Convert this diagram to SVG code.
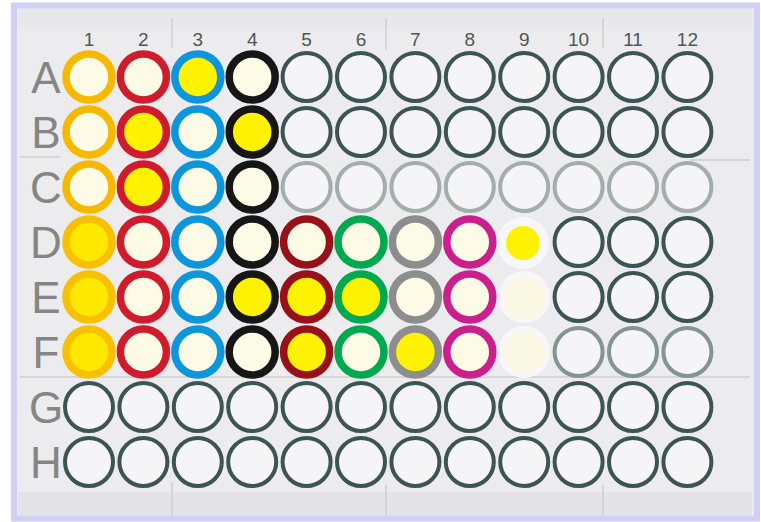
<svg xmlns="http://www.w3.org/2000/svg" width="761" height="522" viewBox="0 0 761 522">
<style>
.lbl{font-family:"Liberation Sans",Arial,sans-serif;fill:#4e5656;font-size:19px;text-anchor:middle}
.row{font-family:"Liberation Sans",Arial,sans-serif;fill:#858585;font-size:44px;text-anchor:middle}
.g{fill:#f5f5f7;stroke:#3d5454;stroke-width:4}
.gl{fill:#f5f5f7;stroke:#a2adad;stroke-width:4}
.gm{fill:#f5f5f7;stroke:#849494;stroke-width:4}
.k{stroke-width:7.5}
.c{fill:#fdfbe6}
.y{fill:#fff200}
.plate{stroke:#cfcfd3;stroke-width:1.5}
</style>
<rect x="0" y="0" width="761" height="522" fill="#ffffff"/>
<rect x="14" y="5.5" width="743" height="513" fill="#ececef" stroke="#d0d0f6" stroke-width="6"/>
<rect x="18" y="9" width="734" height="20" fill="#e8e8eb"/>
<rect x="18" y="492" width="734" height="23" fill="#e4e4e8"/>
<g id="plate-lines" fill="none" class="plate">
<line x1="20" y1="157" x2="60" y2="157"/>
<line x1="690" y1="160" x2="750" y2="160"/>
<line x1="20" y1="377" x2="750" y2="377"/>
<line x1="172" y1="18" x2="172" y2="48"/>
<line x1="172" y1="482" x2="172" y2="515"/>
<line x1="386" y1="18" x2="386" y2="50"/>
<line x1="386" y1="485" x2="386" y2="515"/>
<line x1="603" y1="18" x2="603" y2="48"/>
<line x1="603" y1="485" x2="603" y2="515"/>
</g>
<g id="col-labels">
<text class="lbl" x="89" y="46">1</text>
<text class="lbl" x="143.4" y="46">2</text>
<text class="lbl" x="197.8" y="46">3</text>
<text class="lbl" x="252.2" y="46">4</text>
<text class="lbl" x="306.6" y="46">5</text>
<text class="lbl" x="361" y="46">6</text>
<text class="lbl" x="415.4" y="46">7</text>
<text class="lbl" x="469.8" y="46">8</text>
<text class="lbl" x="524.2" y="46">9</text>
<text class="lbl" x="578.6" y="46">10</text>
<text class="lbl" x="633" y="46">11</text>
<text class="lbl" x="687.4" y="46">12</text>
</g>
<g id="row-labels">
<text class="row" x="46" y="93">A</text>
<text class="row" x="46" y="148">B</text>
<text class="row" x="46" y="203">C</text>
<text class="row" x="46" y="258">D</text>
<text class="row" x="46" y="313">E</text>
<text class="row" x="46" y="368">F</text>
<text class="row" x="46" y="423">G</text>
<text class="row" x="46" y="478">H</text>
</g>
<g id="wells">
<!-- Column 1 gold -->
<g id="A1"><circle class="k c" cx="89" cy="77" r="23" stroke="#f7b900"/></g>
<g id="B1"><circle class="k c" cx="89" cy="132" r="23" stroke="#f7b900"/></g>
<g id="C1"><circle class="k c" cx="89" cy="187" r="23" stroke="#f7b900"/></g>
<g id="D1"><circle class="k" cx="89" cy="242" r="23" stroke="#f9c000" fill="#ffe800"/></g>
<g id="E1"><circle class="k" cx="89" cy="297" r="23" stroke="#f9c000" fill="#ffe800"/></g>
<g id="F1"><circle class="k" cx="89" cy="352" r="23" stroke="#f9c000" fill="#ffe800"/></g>
<g id="G1"><circle class="g" cx="89" cy="407" r="24"/></g>
<g id="H1"><circle class="g" cx="89" cy="462" r="24"/></g>
<!-- Column 2 red -->
<g id="A2"><circle class="k c" cx="143.4" cy="77" r="23" stroke="#cf1b2b"/></g>
<g id="B2"><circle class="k y" cx="143.4" cy="132" r="23" stroke="#cf1b2b"/></g>
<g id="C2"><circle class="k y" cx="143.4" cy="187" r="23" stroke="#cf1b2b"/></g>
<g id="D2"><circle class="k c" cx="143.4" cy="242" r="23" stroke="#cf1b2b"/></g>
<g id="E2"><circle class="k c" cx="143.4" cy="297" r="23" stroke="#cf1b2b"/></g>
<g id="F2"><circle class="k c" cx="143.4" cy="352" r="23" stroke="#cf1b2b"/></g>
<g id="G2"><circle class="g" cx="143.4" cy="407" r="24"/></g>
<g id="H2"><circle class="g" cx="143.4" cy="462" r="24"/></g>
<!-- Column 3 blue -->
<g id="A3"><circle class="k y" cx="197.8" cy="77" r="23" stroke="#0d96dc"/></g>
<g id="B3"><circle class="k c" cx="197.8" cy="132" r="23" stroke="#0d96dc"/></g>
<g id="C3"><circle class="k c" cx="197.8" cy="187" r="23" stroke="#0d96dc"/></g>
<g id="D3"><circle class="k c" cx="197.8" cy="242" r="23" stroke="#0d96dc"/></g>
<g id="E3"><circle class="k c" cx="197.8" cy="297" r="23" stroke="#0d96dc"/></g>
<g id="F3"><circle class="k c" cx="197.8" cy="352" r="23" stroke="#0d96dc"/></g>
<g id="G3"><circle class="g" cx="197.8" cy="407" r="24"/></g>
<g id="H3"><circle class="g" cx="197.8" cy="462" r="24"/></g>
<!-- Column 4 black -->
<g id="A4"><circle class="k c" cx="252.2" cy="77" r="23" stroke="#161616"/></g>
<g id="B4"><circle class="k y" cx="252.2" cy="132" r="23" stroke="#161616"/></g>
<g id="C4"><circle class="k c" cx="252.2" cy="187" r="23" stroke="#161616"/></g>
<g id="D4"><circle class="k c" cx="252.2" cy="242" r="23" stroke="#161616"/></g>
<g id="E4"><circle class="k y" cx="252.2" cy="297" r="23" stroke="#161616"/></g>
<g id="F4"><circle class="k c" cx="252.2" cy="352" r="23" stroke="#161616"/></g>
<g id="G4"><circle class="g" cx="252.2" cy="407" r="24"/></g>
<g id="H4"><circle class="g" cx="252.2" cy="462" r="24"/></g>
<!-- Column 5 dark red -->
<g id="A5"><circle class="g" cx="306.6" cy="77" r="24"/></g>
<g id="B5"><circle class="g" cx="306.6" cy="132" r="24"/></g>
<g id="C5"><circle class="gl" cx="306.6" cy="187" r="24"/></g>
<g id="D5"><circle class="k c" cx="306.6" cy="242" r="23" stroke="#981018"/></g>
<g id="E5"><circle class="k y" cx="306.6" cy="297" r="23" stroke="#981018"/></g>
<g id="F5"><circle class="k y" cx="306.6" cy="352" r="23" stroke="#981018"/></g>
<g id="G5"><circle class="g" cx="306.6" cy="407" r="24"/></g>
<g id="H5"><circle class="g" cx="306.6" cy="462" r="24"/></g>
<!-- Column 6 green -->
<g id="A6"><circle class="g" cx="361" cy="77" r="24"/></g>
<g id="B6"><circle class="g" cx="361" cy="132" r="24"/></g>
<g id="C6"><circle class="gl" cx="361" cy="187" r="24"/></g>
<g id="D6"><circle class="k c" cx="361" cy="242" r="23" stroke="#00a84f"/></g>
<g id="E6"><circle class="k y" cx="361" cy="297" r="23" stroke="#00a84f"/></g>
<g id="F6"><circle class="k c" cx="361" cy="352" r="23" stroke="#00a84f"/></g>
<g id="G6"><circle class="g" cx="361" cy="407" r="24"/></g>
<g id="H6"><circle class="g" cx="361" cy="462" r="24"/></g>
<!-- Column 7 gray -->
<g id="A7"><circle class="g" cx="415.4" cy="77" r="24"/></g>
<g id="B7"><circle class="g" cx="415.4" cy="132" r="24"/></g>
<g id="C7"><circle class="gl" cx="415.4" cy="187" r="24"/></g>
<g id="D7"><circle class="k c" cx="415.4" cy="242" r="23" stroke="#8d8d8d"/></g>
<g id="E7"><circle class="k c" cx="415.4" cy="297" r="23" stroke="#8d8d8d"/></g>
<g id="F7"><circle class="k y" cx="415.4" cy="352" r="23" stroke="#8d8d8d"/></g>
<g id="G7"><circle class="g" cx="415.4" cy="407" r="24"/></g>
<g id="H7"><circle class="g" cx="415.4" cy="462" r="24"/></g>
<!-- Column 8 magenta -->
<g id="A8"><circle class="g" cx="469.8" cy="77" r="24"/></g>
<g id="B8"><circle class="g" cx="469.8" cy="132" r="24"/></g>
<g id="C8"><circle class="gl" cx="469.8" cy="187" r="24"/></g>
<g id="D8"><circle class="k c" cx="469.8" cy="242" r="23" stroke="#cc1f8e"/></g>
<g id="E8"><circle class="k c" cx="469.8" cy="297" r="23" stroke="#cc1f8e"/></g>
<g id="F8"><circle class="k c" cx="469.8" cy="352" r="23" stroke="#cc1f8e"/></g>
<g id="G8"><circle class="g" cx="469.8" cy="407" r="24"/></g>
<g id="H8"><circle class="g" cx="469.8" cy="462" r="24"/></g>
<!-- Column 9 -->
<g id="A9"><circle class="g" cx="524.2" cy="77" r="24"/></g>
<g id="B9"><circle class="g" cx="524.2" cy="132" r="24"/></g>
<g id="C9"><circle class="gl" cx="524.2" cy="187" r="24"/></g>
<g id="D9"><circle cx="523" cy="243" r="26" fill="#f7f7f9"/><circle cx="523" cy="243" r="17" fill="#fff200"/></g>
<g id="E9"><circle cx="524.2" cy="297" r="26" fill="#f7f7f9"/><circle cx="524.2" cy="298" r="21" fill="#fbf8e4"/></g>
<g id="F9"><circle cx="524.2" cy="352" r="26" fill="#f7f7f9"/><circle cx="524.2" cy="352" r="21" fill="#fbf8e4"/></g>
<g id="G9"><circle class="g" cx="524.2" cy="407" r="24"/></g>
<g id="H9"><circle class="g" cx="524.2" cy="462" r="24"/></g>
<!-- Column 10 -->
<g id="A10"><circle class="g" cx="578.6" cy="77" r="24"/></g>
<g id="B10"><circle class="g" cx="578.6" cy="132" r="24"/></g>
<g id="C10"><circle class="gl" cx="578.6" cy="187" r="24"/></g>
<g id="D10"><circle class="g" cx="578.6" cy="242" r="24"/></g>
<g id="E10"><circle class="g" cx="578.6" cy="297" r="24"/></g>
<g id="F10"><circle class="gm" cx="578.6" cy="352" r="24"/></g>
<g id="G10"><circle class="g" cx="578.6" cy="407" r="24"/></g>
<g id="H10"><circle class="g" cx="578.6" cy="462" r="24"/></g>
<!-- Column 11 -->
<g id="A11"><circle class="g" cx="633" cy="77" r="24"/></g>
<g id="B11"><circle class="g" cx="633" cy="132" r="24"/></g>
<g id="C11"><circle class="gl" cx="633" cy="187" r="24"/></g>
<g id="D11"><circle class="g" cx="633" cy="242" r="24"/></g>
<g id="E11"><circle class="g" cx="633" cy="297" r="24"/></g>
<g id="F11"><circle class="gm" cx="633" cy="352" r="24"/></g>
<g id="G11"><circle class="g" cx="633" cy="407" r="24"/></g>
<g id="H11"><circle class="g" cx="633" cy="462" r="24"/></g>
<!-- Column 12 -->
<g id="A12"><circle class="g" cx="687.4" cy="77" r="24"/></g>
<g id="B12"><circle class="g" cx="687.4" cy="132" r="24"/></g>
<g id="C12"><circle class="gl" cx="687.4" cy="187" r="24"/></g>
<g id="D12"><circle class="g" cx="687.4" cy="242" r="24"/></g>
<g id="E12"><circle class="g" cx="687.4" cy="297" r="24"/></g>
<g id="F12"><circle class="gm" cx="687.4" cy="352" r="24"/></g>
<g id="G12"><circle class="g" cx="687.4" cy="407" r="24"/></g>
<g id="H12"><circle class="g" cx="687.4" cy="462" r="24"/></g>
</g>
</svg>
